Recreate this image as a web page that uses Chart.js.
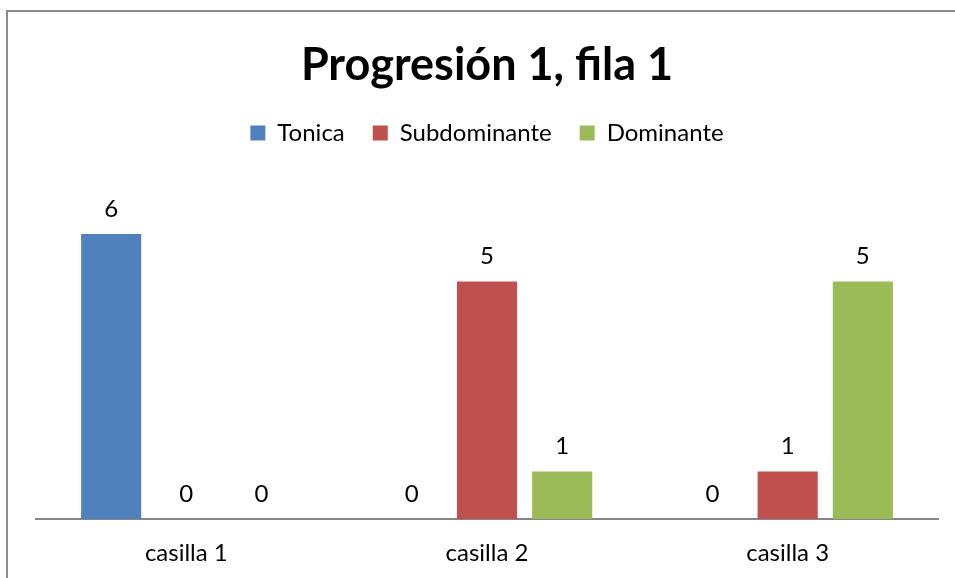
<!DOCTYPE html>
<html>
<head>
<meta charset="utf-8">
<script src="https://cdn.jsdelivr.net/npm/chart.js@4"></script>
<style>
  body { margin: 0; background: #fff; }
</style>
</head>
<body>
<canvas id="progChart" width="955" height="578"></canvas>
<script>
const categories = ['casilla 1', 'casilla 2', 'casilla 3'];
const tonica = [6, 0, 0];
const subdominante = [0, 5, 1];
const dominante = [0, 1, 5];

const FONT = "Lato, 'Liberation Sans', sans-serif";

// frame of the chart box (only the left and top edges show in the window)
const framePlugin = {
  id: 'frame',
  beforeDraw(chart) {
    const ctx = chart.ctx;
    ctx.save();
    ctx.strokeStyle = '#8c8c8c';
    ctx.lineWidth = 2;
    ctx.beginPath();
    ctx.moveTo(7, 600);
    ctx.lineTo(7, 11);
    ctx.lineTo(960, 11);
    ctx.stroke();
    ctx.restore();
  }
};

// value labels above each bar
const valueLabels = {
  id: 'valueLabels',
  afterDatasetsDraw(chart) {
    const ctx = chart.ctx;
    ctx.save();
    ctx.font = '24px ' + FONT;
    ctx.fillStyle = '#000';
    ctx.textAlign = 'center';
    ctx.textBaseline = 'middle';
    chart.data.datasets.forEach((ds, i) => {
      chart.getDatasetMeta(i).data.forEach((bar, j) => {
        ctx.fillText(String(ds.data[j]), bar.x, bar.y - 25);
      });
    });
    ctx.restore();
  }
};

new Chart(document.getElementById('progChart'), {
  type: 'bar',
  data: {
    labels: categories,
    datasets: [
      { label: 'Tonica', data: tonica, backgroundColor: '#4F81BD' },
      { label: 'Subdominante', data: subdominante, backgroundColor: '#C0504D' },
      { label: 'Dominante', data: dominante, backgroundColor: '#9BBB59' }
    ]
  },
  options: {
    responsive: false,
    animation: false,
    categoryPercentage: 0.75,
    barPercentage: 0.8,
    layout: { padding: { left: 36, right: 17, top: 0, bottom: 0 } },
    plugins: {
      title: {
        display: true,
        text: 'Progresión 1, fila 1',
        color: '#000',
        font: { family: FONT, size: 45, weight: 'bold' },
        padding: { top: 38, bottom: 1 }
      },
      legend: {
        labels: {
          color: '#000',
          font: { family: FONT, size: 24 },
          boxWidth: 15,
          boxHeight: 15,
          padding: 28
        }
      },
      tooltip: { enabled: false }
    },
    scales: {
      x: {
        grid: { display: false, drawTicks: false },
        border: { color: '#868686', width: 2 },
        ticks: { color: '#000', font: { family: FONT, size: 24 }, padding: 19.6 },
        afterFit(scale) { scale.height = 59; }
      },
      y: {
        display: false,
        min: 0,
        max: 7.66
      }
    }
  },
  plugins: [framePlugin, valueLabels]
});
</script>
</body>
</html>
